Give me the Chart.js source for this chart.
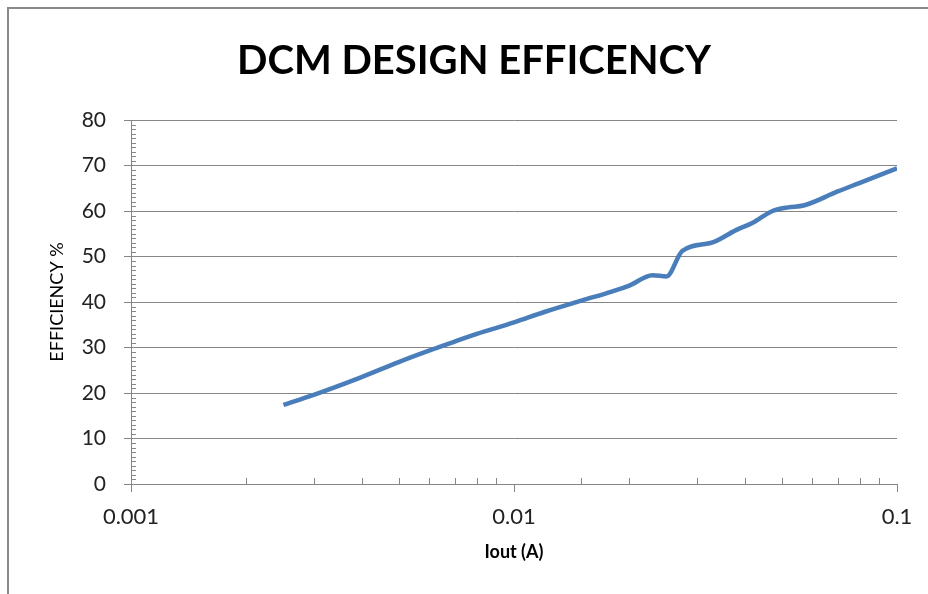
<!DOCTYPE html>
<html>
<head>
<meta charset="utf-8">
<script src="https://cdn.jsdelivr.net/npm/chart.js@4.4.1/dist/chart.umd.min.js"></script>
<style>
  html, body { margin: 0; padding: 0; background: #fff; }
  #wrap { position: relative; width: 928px; height: 594px; }
  #frame { position: absolute; left: 7px; top: 7px; right: -10px; bottom: -10px;
           border-left: 2px solid #8a8a8a; border-top: 2px solid #8a8a8a; }
  canvas { position: absolute; left: 0; top: 0; }
</style>
</head>
<body>
<div id="wrap">
  <div id="frame"></div>
  <canvas id="effChart" width="928" height="594"></canvas>
</div>
<script>
// Output current (A) and measured efficiency (%)
const ioutValues = [0.0025, 0.003, 0.004, 0.005, 0.006, 0.007, 0.008, 0.01, 0.012, 0.015,
                    0.018, 0.02, 0.023, 0.025, 0.0275, 0.033, 0.038, 0.042, 0.047, 0.052,
                    0.057, 0.07, 0.08, 0.1];
const efficiencyValues = [17.4, 19.6, 23.5, 26.8, 29.3, 31.3, 33.0, 35.5, 37.8, 40.3,
                          42.3, 43.6, 45.9, 45.6, 51.2, 53.1, 55.8, 57.4, 59.9, 60.8,
                          61.2, 64.3, 66.2, 69.4];
const xTickLabels = ['0.001', '0.01', '0.1'];
const yTickStep = 10;

const axisGrey = '#868686';
const fontFamily = 'Lato, "Liberation Sans", sans-serif';

const points = ioutValues.map((x, i) => ({ x: x, y: efficiencyValues[i] }));

function isDecade(v) {
    const l = Math.log10(v);
    return Math.abs(l - Math.round(l)) < 1e-6;
}

// small inside ticks like the excel chart (minor units)
const minorTicks = {
    id: 'minorTicks',
    afterDraw(chart) {
        const ctx = chart.ctx;
        const xs = chart.scales.x, ys = chart.scales.y;
        ctx.save();
        ctx.strokeStyle = axisGrey;
        ctx.lineWidth = 1;
        ctx.beginPath();
        for (let v = ys.min; v <= ys.max; v += 1) {
            if (v % yTickStep === 0) continue;
            const py = Math.round(ys.getPixelForValue(v)) + 0.5;
            ctx.moveTo(xs.left, py);
            ctx.lineTo(xs.left + 5, py);
        }
        xs.ticks.forEach(t => {
            if (isDecade(t.value)) return;
            const px = Math.round(xs.getPixelForValue(t.value)) + 0.5;
            ctx.moveTo(px, ys.bottom);
            ctx.lineTo(px, ys.bottom - 6);
        });
        ctx.stroke();
        ctx.restore();
    }
};

new Chart(document.getElementById('effChart').getContext('2d'), {
    type: 'line',
    data: {
        datasets: [{
            label: 'Efficiency',
            data: points,
            borderColor: '#4a7ebb',
            borderWidth: 4.5,
            pointRadius: 0,
            fill: false,
            tension: 0.4,
            cubicInterpolationMode: 'monotone'
        }]
    },
    options: {
        responsive: false,
        animation: false,
        layout: { padding: { left: 51, right: 31, top: 10, bottom: 8 } },
        plugins: {
            legend: { display: false },
            tooltip: { enabled: false },
            title: {
                display: true,
                text: 'DCM DESIGN EFFICENCY',
                color: '#000',
                font: { family: fontFamily, size: 40, weight: 'bold' },
                padding: { top: 27, bottom: 35 }
            }
        },
        scales: {
            x: {
                type: 'logarithmic',
                min: 0.001,
                max: 0.1,
                afterFit: s => { s.height = 594 - 484 - 8; },
                border: { color: axisGrey, width: 1 },
                grid: {
                    drawOnChartArea: false,
                    tickLength: 8,
                    tickColor: c => isDecade(c.tick.value) ? axisGrey : 'rgba(0,0,0,0)'
                },
                ticks: {
                    autoSkip: false,
                    maxRotation: 0,
                    padding: 12,
                    color: '#222',
                    font: { family: fontFamily, size: 22 },
                    callback: v => {
                        const idx = Math.round(Math.log10(v)) + 3;
                        return isDecade(v) ? xTickLabels[idx] : '';
                    }
                },
                title: {
                    display: true,
                    text: 'Iout (A)',
                    color: '#000',
                    font: { family: fontFamily, size: 18, weight: 'bold' },
                    padding: { top: 0, bottom: 23 }
                }
            },
            y: {
                min: 0,
                max: 80,
                afterFit: s => { s.width = 131 - 51; },
                border: { color: axisGrey, width: 1 },
                grid: {
                    color: axisGrey,
                    tickLength: 7,
                    tickColor: axisGrey
                },
                ticks: {
                    stepSize: yTickStep,
                    padding: 18,
                    color: '#222',
                    font: { family: fontFamily, size: 21 }
                },
                title: {
                    display: true,
                    text: 'EFFICIENCY %',
                    color: '#000',
                    font: { family: fontFamily, size: 18 },
                    padding: { top: -5, bottom: 0 }
                }
            }
        }
    },
    plugins: [minorTicks]
});
</script>
</body>
</html>
